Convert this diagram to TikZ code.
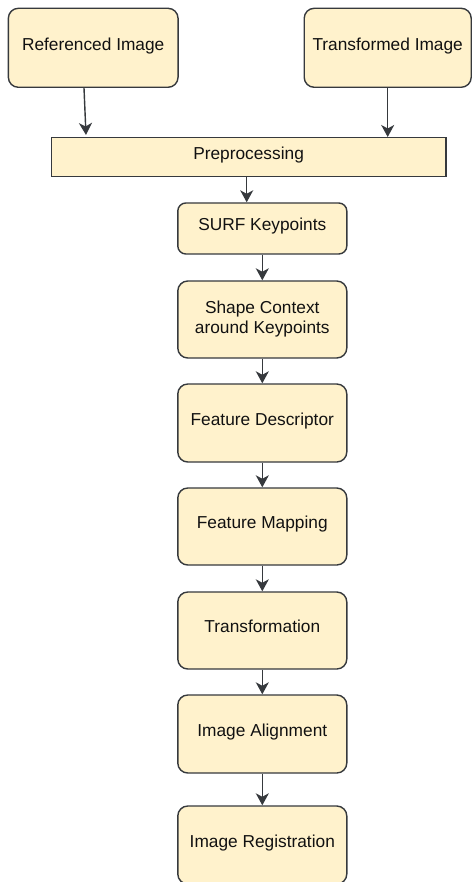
\documentclass[tikz,border=0pt]{standalone}
\usepackage{fontspec}
\setmainfont{Liberation Sans}
\usetikzlibrary{arrows.meta}
\definecolor{boxfill}{HTML}{FFF2CC}
\definecolor{boxline}{HTML}{36393D}
\definecolor{txt}{HTML}{111111}
\begin{document}
\begin{tikzpicture}[x=1pt,y=-1pt,
  box/.style={draw=boxline, fill=boxfill, line width=1.4pt, rounded corners=10pt,
    minimum width=169pt, minimum height=78pt, inner sep=0pt,
    font=\fontsize{17.3}{20}\selectfont, text=txt, align=center},
  one/.style={text height=10pt, text depth=5.2pt},
  arr/.style={draw=boxline, line width=1.4pt, -{Stealth[length=12pt,width=13pt,inset=3.5pt]}}]
\clip (0,0) rectangle (472,882);
\fill[white] (0,0) rectangle (472,882);
\node[box, one, minimum width=169.7pt, minimum height=79pt] (ref) at (93.2,47.8) {Referenced Image};
\node[box, one, minimum width=167pt, minimum height=79pt] (trans) at (387.7,47.8) {Transformed Image};
\node[box, one, rounded corners=0pt, minimum width=394.4pt, minimum height=39pt] (pre) at (248.6,157.2) {Preprocessing};
\node[box, one, rounded corners=8pt, minimum height=51pt] (surf) at (262.3,228.5) {SURF Keypoints};
\node[box, minimum height=77pt] (shape) at (262.3,319.5) {Shape Context\\around Keypoints};
\node[box, one] (desc) at (262.3,423) {Feature Descriptor};
\node[box, one, minimum height=77pt] (map) at (262.3,526.5) {Feature Mapping};
\node[box, one, minimum height=77pt] (trf) at (262.3,630.5) {Transformation};
\node[box, one] (aln) at (262.3,734) {Image Alignment};
\node[box, one] (reg) at (262.3,845) {Image Registration};
\coordinate (refend) at (86,135);
\draw[arr] ([xshift=-9.2pt]ref.south) -- (refend);
\draw[arr] (trans.south) -- (trans.south |- pre.north);
\draw[arr] ([xshift=-1.9pt]pre.south) -- ([xshift=-1.9pt]pre.south |- surf.north);
\draw[arr] (surf) -- (shape);
\draw[arr] (shape) -- (desc);
\draw[arr] (desc) -- (map);
\draw[arr] (map) -- (trf);
\draw[arr] (trf) -- (aln);
\draw[arr] (aln) -- (reg);
\end{tikzpicture}
\end{document}
